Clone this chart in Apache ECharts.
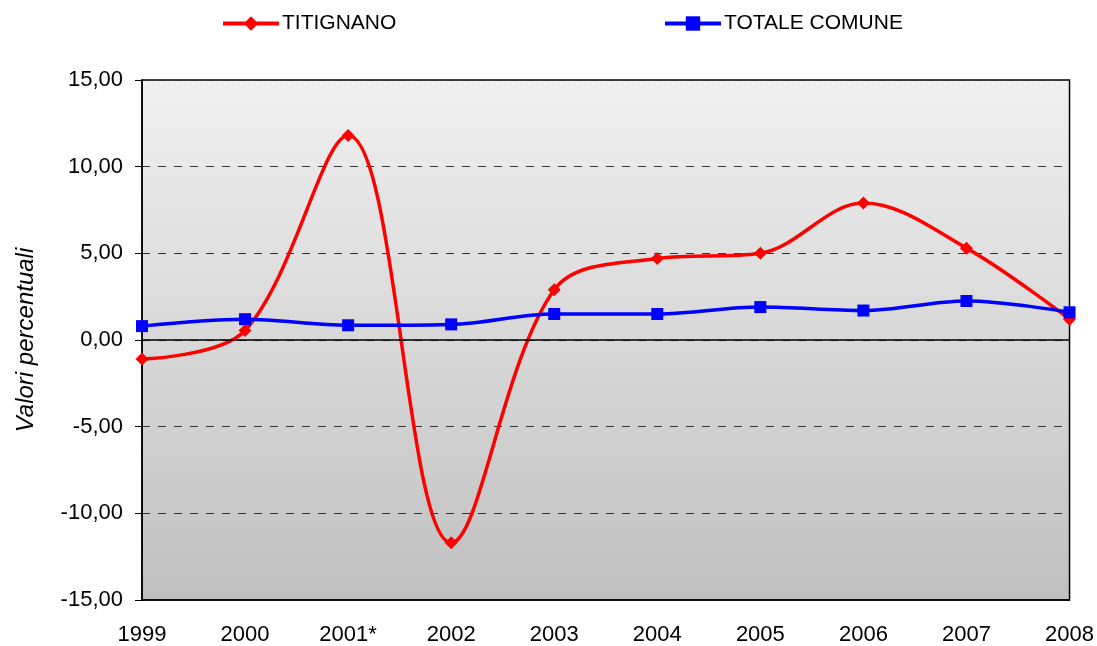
<!DOCTYPE html>
<html>
<head>
<meta charset="utf-8">
<script src="https://cdn.jsdelivr.net/npm/echarts@6/dist/echarts.min.js"></script>
<style>
  html, body { margin: 0; padding: 0; background: #fff; }
  #chart { width: 1097px; height: 646px; }
</style>
</head>
<body>
<div id="chart"></div>
<script>
const years = ["1999", "2000", "2001*", "2002", "2003", "2004", "2005", "2006", "2007", "2008"];
const titignano = [-1.1, 0.55, 11.8, -11.7, 2.9, 4.7, 5.0, 7.9, 5.3, 1.2];
const totaleComune = [0.8, 1.2, 0.85, 0.9, 1.5, 1.5, 1.9, 1.7, 2.25, 1.6];

const chart = echarts.init(document.getElementById("chart"));
const font = "Liberation Sans, Arial, sans-serif";

chart.setOption({
  animation: false,
  textStyle: { fontFamily: font },
  legend: [
    {
      left: 216, top: 8,
      data: ["TITIGNANO"],
      itemWidth: 56, itemHeight: 18, itemGap: 4,
      lineStyle: { width: 4 },
      textStyle: { fontSize: 21, color: "#000", fontFamily: font, padding: [0, 0, 0, -2] }
    },
    {
      left: 658, top: 8,
      data: ["TOTALE COMUNE"],
      itemWidth: 56, itemHeight: 18, itemGap: 4,
      lineStyle: { width: 4 },
      textStyle: { fontSize: 21, color: "#000", fontFamily: font, padding: [0, 0, 0, -2] }
    }
  ],
  grid: {
    left: 142, right: 27, top: 80, bottom: 45,
    show: true,
    borderColor: "#000",
    borderWidth: 1.5,
    backgroundColor: new echarts.graphic.LinearGradient(0, 0, 0, 1, [
      { offset: 0, color: "#f0f0f0" },
      { offset: 1, color: "#c0c0c0" }
    ])
  },
  xAxis: {
    type: "category",
    data: years,
    boundaryGap: false,
    axisLine: { onZero: false, lineStyle: { color: "#000", width: 1.5 } },
    axisTick: { show: false },
    axisLabel: { color: "#000", fontSize: 22, margin: 24, fontFamily: font },
    splitLine: { show: false }
  },
  yAxis: {
    type: "value",
    min: -15, max: 15, interval: 5,
    name: "Valori percentuali",
    nameLocation: "middle",
    nameGap: 104,
    nameTextStyle: { fontSize: 24, fontStyle: "italic", color: "#000", fontFamily: font },
    axisLine: { show: true, lineStyle: { color: "#000", width: 1.5 } },
    axisTick: { show: true, length: 7, lineStyle: { color: "#000" } },
    axisLabel: {
      color: "#000", fontSize: 22, margin: 19, fontFamily: font,
      formatter: v => v.toFixed(2).replace(".", ",")
    },
    splitLine: { show: true, lineStyle: { color: "#333", type: [8, 8], width: 1 } }
  },
  series: [
    {
      name: "TITIGNANO",
      type: "line",
      data: titignano,
      smooth: 0.35,
      symbol: "diamond",
      symbolSize: 13,
      lineStyle: { color: "#ff0000", width: 3.5 },
      itemStyle: { color: "#ff0000" },
      markLine: {
        silent: true,
        symbol: "none",
        label: { show: false },
        lineStyle: { color: "#000", type: "solid", width: 1.5 },
        data: [{ yAxis: 0 }]
      },
      z: 3
    },
    {
      name: "TOTALE COMUNE",
      type: "line",
      data: totaleComune,
      smooth: 0.35,
      symbol: "rect",
      symbolSize: 12,
      lineStyle: { color: "#0000ff", width: 3.5 },
      itemStyle: { color: "#0000ff" },
      z: 4
    }
  ]
});
</script>
</body>
</html>
